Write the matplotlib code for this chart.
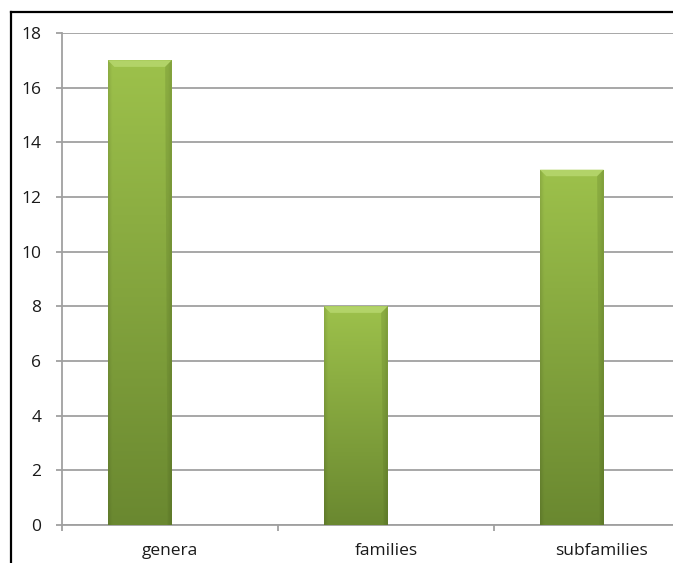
import matplotlib.pyplot as plt
import numpy as np
from matplotlib.lines import Line2D
from matplotlib.patches import Polygon

categories = ['genera', 'families', 'subfamilies']
counts = [17, 8, 13]
yticks = [0, 2, 4, 6, 8, 10, 12, 14, 16, 18]

plt.rcParams['font.family'] = ['Open Sans', 'DejaVu Sans']

W, H = 673, 563
fig = plt.figure(figsize=(W / 100, H / 100), dpi=100)
ax = fig.add_axes([62 / W, 38 / H, (710 - 62) / W, 492 / H])

x = np.arange(len(categories))
# bars sit left of the category centre (clustered layout with one series)
bars = ax.bar(x - 0.14, counts, width=0.295, facecolor='none', edgecolor='none', zorder=3)

# vertical gradient (light top, darker bottom) with slightly darker sides
top = np.array([0x9d, 0xc1, 0x4b]) / 255
bot = np.array([0x6a, 0x88, 0x30]) / 255
v = np.linspace(0, 1, 200)[:, None, None]
hx = np.linspace(-1, 1, 60)
side = 1 - 0.10 * np.clip((np.abs(hx) - 0.88) / 0.12, 0, 1)
img = (bot + (top - bot) * v) * side[None, :, None]

ax.set_ylim(0, 18)
ax.set_xlim(-0.5, len(categories) - 0.5)

for b in bars:
    x0, w, h = b.get_x(), b.get_width(), b.get_height()
    im = ax.imshow(img, extent=[x0, x0 + w, 0, h], origin='lower',
                   aspect='auto', zorder=3, interpolation='bilinear')
    im.set_clip_path(b)
    bh, bw = 0.24, 0.03
    ax.add_patch(Polygon([[x0, h], [x0 + w, h], [x0 + w - bw, h - bh], [x0 + bw, h - bh]],
                         closed=True, facecolor='#b2d368', edgecolor='none', zorder=4))
    ax.add_patch(Polygon([[x0 + w, h], [x0 + w - bw, h - bh], [x0 + w - bw * 0.6, 0], [x0 + w, 0]],
                         closed=True, facecolor='#5a7626', edgecolor='none', zorder=4, alpha=0.25))

ax.set_yticks(yticks)
ax.yaxis.grid(True, color='#a0a0a0', linewidth=1.3, zorder=0)
ax.set_axisbelow(True)

ax.set_xticks(x)
ax.set_xticklabels(categories, fontsize=12.5, color='#1a1a1a')
ax.set_xticks(np.arange(len(categories) + 1) - 0.5, minor=True)
ax.tick_params(axis='x', which='major', length=0, pad=13)
ax.tick_params(axis='x', which='minor', length=4, width=1.3, color='#a0a0a0', direction='out')
ax.tick_params(axis='y', length=4, width=1.3, color='#a0a0a0', labelsize=12.5,
               labelcolor='#1a1a1a', pad=11)

for s in ['top', 'right']:
    ax.spines[s].set_visible(False)
for s in ['left', 'bottom']:
    ax.spines[s].set_color('#a0a0a0')
    ax.spines[s].set_linewidth(1.3)

# outer chart border (left and top)
fig.add_artist(Line2D([10.5 / W, 10.5 / W], [0, 1 - 11.5 / H], transform=fig.transFigure,
                      color='black', linewidth=1.6))
fig.add_artist(Line2D([10.5 / W, 1], [1 - 11.5 / H, 1 - 11.5 / H], transform=fig.transFigure,
                      color='black', linewidth=1.6))

fig.savefig('out.png', dpi=100)
